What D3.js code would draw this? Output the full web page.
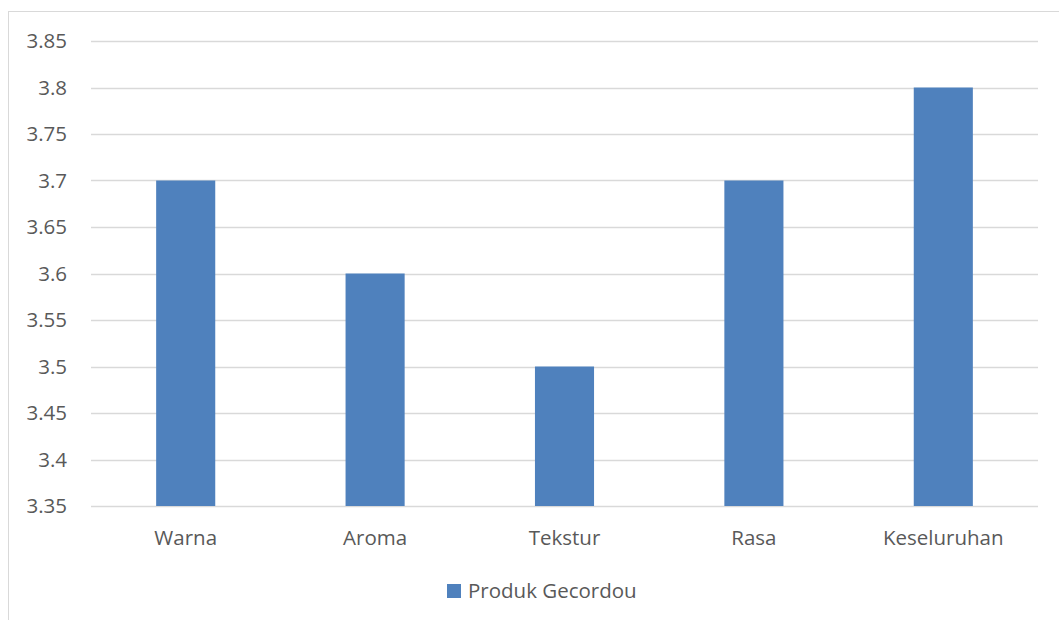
<!DOCTYPE html>
<html>
<head>
<meta charset="utf-8">
<script src="https://d3js.org/d3.v7.min.js"></script>
<style>
  body { margin: 0; background: #fff; }
  text { font-family: "Open Sans", "Noto Sans", sans-serif; fill: #595959; }
</style>
</head>
<body>
<div id="chart"></div>
<script>
const categories = ['Warna', 'Aroma', 'Tekstur', 'Rasa', 'Keseluruhan']
const values = [3.7, 3.6, 3.5, 3.7, 3.8]
const yTicks = [3.35, 3.4, 3.45, 3.5, 3.55, 3.6, 3.65, 3.7, 3.75, 3.8, 3.85]
const seriesName = 'Produk Gecordou'

const W = 1059, H = 620
const m = {t: 41, r: 21, b: 114, l: 91}
const w = W - m.l - m.r
const h = H - m.t - m.b

const svg = d3.select('#chart').append('svg')
  .attr('width', W)
  .attr('height', H)

// chart frame
svg.append('rect')
  .attr('x', 8.5).attr('y', 11.5)
  .attr('width', W).attr('height', H)
  .style('fill', 'none')
  .style('stroke', '#d9d9d9')

const g = svg.append('g').attr('transform', 'translate(' + m.l + ',' + m.t + ')')

const x = d3.scaleBand().domain(categories).range([0, w]).paddingInner(0.688).paddingOuter(0.344)
const y = d3.scaleLinear().domain([3.35, 3.85]).range([h, 0])

// gridlines
g.selectAll('line.grid')
  .data(yTicks)
  .enter().append('line')
  .attr('class', 'grid')
  .attr('x1', 0).attr('x2', w)
  .attr('y1', d => Math.round(y(d)) + 0.5)
  .attr('y2', d => Math.round(y(d)) + 0.5)
  .style('stroke', '#d9d9d9')
  .style('stroke-width', 1.5)

// y tick labels
g.selectAll('text.ytick')
  .data(yTicks)
  .enter().append('text')
  .attr('class', 'ytick')
  .attr('x', -24)
  .attr('y', d => y(d))
  .attr('dy', '0.35em')
  .attr('text-anchor', 'end')
  .style('font-size', '20.5px')
  .text(d => d)

// bars
g.selectAll('rect.bar')
  .data(values)
  .enter().append('rect')
  .attr('class', 'bar')
  .attr('x', (d, i) => x(categories[i]))
  .attr('width', x.bandwidth())
  .attr('y', d => y(d))
  .attr('height', d => h - y(d))
  .style('fill', '#4f81bd')

// category labels
g.selectAll('text.xtick')
  .data(categories)
  .enter().append('text')
  .attr('class', 'xtick')
  .attr('x', d => x(d) + x.bandwidth() / 2)
  .attr('y', h + 32)
  .attr('dy', '0.35em')
  .attr('text-anchor', 'middle')
  .style('font-size', '20.5px')
  .text(d => d)

// legend
const lg = svg.append('g').attr('transform', 'translate(447,584)')
lg.append('rect')
  .attr('width', 14).attr('height', 14)
  .style('fill', '#4f81bd')
lg.append('text')
  .attr('x', 21).attr('y', 7)
  .attr('dy', '0.35em')
  .style('font-size', '20.5px')
  .text(seriesName)
</script>
</body>
</html>
